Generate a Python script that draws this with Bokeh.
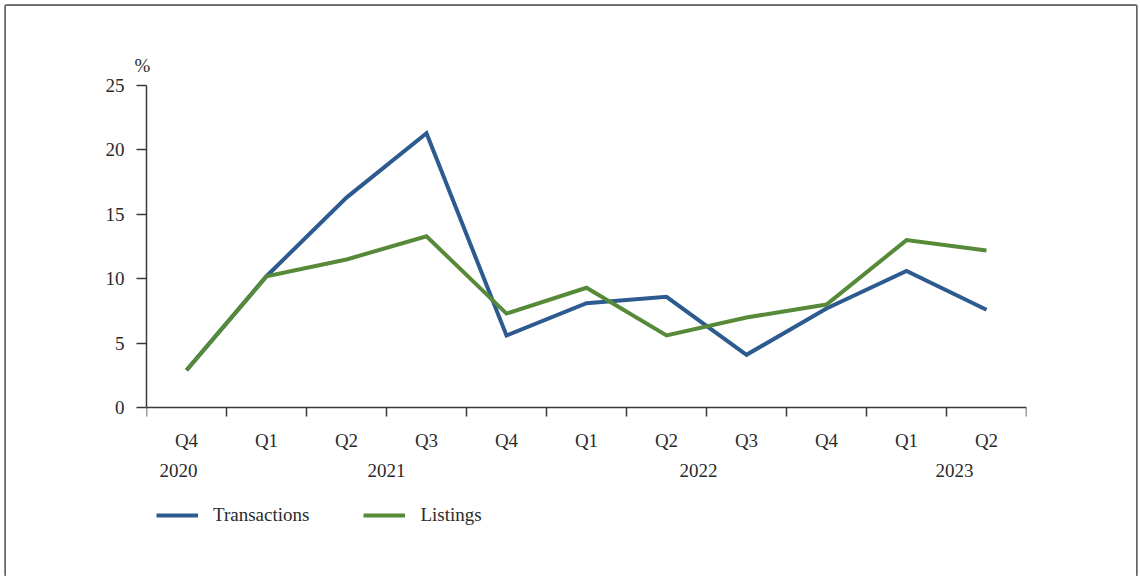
from bokeh.plotting import figure
from bokeh.models import (Range1d, LinearAxis, FixedTicker, Legend, LegendItem,
                          ColumnDataSource)
from bokeh.core.properties import value
from bokeh.embed import file_html
from bokeh.resources import INLINE

# ---- data ----
quarters = ["Q4", "Q1", "Q2", "Q3", "Q4", "Q1", "Q2", "Q3", "Q4", "Q1", "Q2"]
years = ["2020", "2021", "2022", "2023"]
transactions = [2.9, 10.2, 16.3, 21.3, 5.6, 8.1, 8.6, 4.1, 7.7, 10.6, 7.6]
listings = [2.9, 10.2, 11.5, 13.3, 7.3, 9.3, 5.6, 7.0, 8.0, 13.0, 12.2]
y_ticks = [0, 5, 10, 15, 20, 25]

# ---- layout constants ----
x = list(range(len(quarters)))
year_pos = [-0.1, 2.5, 6.4, 9.6]
YEAR_Y = -4.9          # vertical place of the year row (below the axis)
Y_MIN = -10            # frame extends below zero to hold year row and legend
FONT = "Liberation Serif"
FS = "19px"
TXT = "#2b2b2b"
AX = "#3a3a3a"
BLUE = "#2d5b8f"
GREEN = "#568a39"
EDGE = "#666666"

p = figure(width=1130, height=570,
           x_range=Range1d(-0.5, len(quarters) - 0.5), y_range=Range1d(Y_MIN, 25),
           x_axis_type=None, y_axis_type=None,
           output_backend="svg", toolbar_location=None,
           min_border_left=140, min_border_right=110, min_border_top=79,
           min_border_bottom=40, title="%")
p.outline_line_color = None
p.background_fill_color = "white"
p.border_fill_color = "white"
p.styles = {"margin-left": "6px", "margin-top": "6px",
            "box-shadow": (f"-1.5px 0 0 0 {EDGE}, 1.5px 0 0 0 {EDGE}, "
                           f"0 -1.5px 0 0 {EDGE}, -1.5px -1.5px 0 0 {EDGE}, "
                           f"1.5px -1.5px 0 0 {EDGE}")}

p.title.text_font = FONT
p.title.text_font_size = FS
p.title.text_font_style = "normal"
p.title.text_color = TXT
p.title.align = "left"
p.title.offset = -12
p.title.standoff = 19

# y axis
yax = LinearAxis(ticker=FixedTicker(ticks=y_ticks), bounds=(0, 25))
yax.axis_line_color = AX
yax.axis_line_width = 1.5
yax.major_tick_line_color = AX
yax.major_tick_line_width = 1.5
yax.major_tick_in = 0
yax.major_tick_out = 10
yax.minor_tick_line_color = None
yax.major_label_standoff = 12
yax.major_label_text_font = FONT
yax.major_label_text_font_size = FS
yax.major_label_text_color = TXT
p.add_layout(yax, "left")

# x axis at y=0: quarter labels at centres, minor ticks at band boundaries
bounds = [i - 0.5 for i in range(len(quarters) + 1)]
qax = LinearAxis(ticker=FixedTicker(ticks=x, minor_ticks=bounds), fixed_location=0)
qax.major_label_overrides = {i: q for i, q in enumerate(quarters)}
qax.axis_line_color = AX
qax.axis_line_width = 1.5
qax.major_tick_line_color = None
qax.major_tick_in = 0
qax.major_tick_out = 0
qax.minor_tick_line_color = AX
qax.minor_tick_line_width = 1.5
qax.minor_tick_in = 0
qax.minor_tick_out = 9
qax.major_label_standoff = 13
qax.major_label_text_font = FONT
qax.major_label_text_font_size = FS
qax.major_label_text_color = TXT
p.add_layout(qax, "below")

# year row
ysrc = ColumnDataSource(dict(x=year_pos, y=[YEAR_Y] * len(years), t=years))
p.text(x="x", y="y", text="t", source=ysrc, text_font=value(FONT),
       text_font_size=value(FS), text_color=TXT, text_align="center",
       text_baseline="middle")

r1 = p.line(x, transactions, line_color=BLUE, line_width=4, line_join="miter")
r2 = p.line(x, listings, line_color=GREEN, line_width=4, line_join="miter")

legend = Legend(items=[LegendItem(label="Transactions", renderers=[r1]),
                       LegendItem(label="Listings", renderers=[r2])],
                orientation="horizontal", location=(10, 10))
legend.border_line_color = None
legend.background_fill_alpha = 0
legend.glyph_width = 42
legend.glyph_height = 20
legend.label_standoff = 15
legend.spacing = 54
legend.padding = 11
legend.margin = 0
legend.label_text_font = FONT
legend.label_text_font_size = FS
legend.label_text_color = TXT
p.add_layout(legend, "center")

open("out.html", "w").write(file_html(p, INLINE))
